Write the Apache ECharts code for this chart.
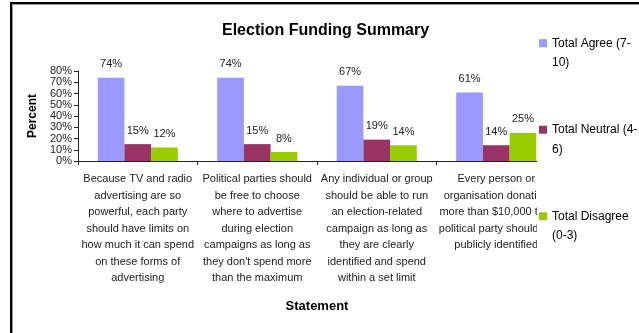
<!DOCTYPE html>
<html>
<head>
<meta charset="utf-8">
<title>Election Funding Summary</title>
<script src="https://cdn.jsdelivr.net/npm/echarts@6/dist/echarts.min.js"></script>
<style>
  html, body { margin: 0; padding: 0; background: #fff; }
  #chart { width: 639px; height: 333px; }
</style>
</head>
<body>
<div id="chart"></div>
<script>
// Statements (line breaks follow the wrapped layout under each group)
const statements = [
  'Because TV and radio\nadvertising are so\npowerful, each party\nshould have limits on\nhow much it can spend\non these forms of\nadvertising',
  'Political parties should\nbe free to choose\nwhere to advertise\nduring election\ncampaigns as long as\nthey don\'t spend more\nthan the maximum',
  'Any individual or group\nshould be able to run\nan election-related\ncampaign as long as\nthey are clearly\nidentified and spend\nwithin a set limit',
  'Every person or\norganisation donating\nmore than $10,000 to a\npolitical party should be\npublicly identified'
];

// Share of respondents (%) per statement
const totalAgree = [74, 74, 67, 61];
const totalNeutral = [15, 15, 19, 14];
const totalDisagree = [12, 8, 14, 25];

const seriesNames = ['Total Agree (7-10)', 'Total Neutral (4-6)', 'Total Disagree (0-3)'];
const legendLabels = ['Total Agree (7-\n10)', 'Total Neutral (4-\n6)', 'Total Disagree\n(0-3)'];

const yTicks = [0, 10, 20, 30, 40, 50, 60, 70, 80];

const FONT = '"Liberation Sans", Arial, sans-serif';
const colors = ['#9999FF', '#993366', '#99CC00'];

const chart = echarts.init(document.getElementById('chart'), null, { renderer: 'canvas' });

function barSeries(name, values, color) {
  return {
    name: name,
    type: 'bar',
    data: values,
    barGap: '0%',
    barCategoryGap: '33%',
    itemStyle: { color: color },
    label: {
      show: true,
      position: 'top',
      distance: 8,
      formatter: '{c}%',
      fontFamily: FONT,
      fontSize: 11,
      color: '#222'
    }
  };
}

chart.setOption({
  animation: false,
  backgroundColor: '#fff',
  textStyle: { fontFamily: FONT },
  title: {
    text: 'Election Funding Summary',
    left: 222,
    top: 23,
    padding: 0,
    textStyle: { fontFamily: FONT, fontSize: 16, fontWeight: 'bold', color: '#000' }
  },
  grid: { left: 78, right: 83, top: 71, bottom: 172, containLabel: false },
  legend: {
    orient: 'vertical',
    left: 537,
    top: 14,
    icon: 'rect',
    itemWidth: 8,
    itemHeight: 8,
    itemGap: 28,
    padding: [0, 12, 45, 2],
    backgroundColor: '#fff',
    data: seriesNames,
    // a leading blank line keeps the first text line level with the marker
    formatter: function (name) {
      return '\n' + legendLabels[seriesNames.indexOf(name)];
    },
    textStyle: {
      fontFamily: FONT,
      fontSize: 12,
      lineHeight: 19.5,
      color: '#000'
    }
  },
  xAxis: {
    type: 'category',
    data: statements,
    name: 'Statement',
    nameLocation: 'middle',
    nameGap: 139,
    nameTextStyle: { fontFamily: FONT, fontSize: 13, fontWeight: 'bold', color: '#000', verticalAlign: 'top' },
    axisLine: { lineStyle: { color: '#222', width: 1 } },
    axisTick: { show: true, length: 4, lineStyle: { color: '#222' } },
    axisLabel: {
      interval: 0,
      margin: 10,
      fontFamily: FONT,
      fontSize: 11,
      lineHeight: 16.5,
      color: '#222',
      align: 'center'
    }
  },
  yAxis: {
    type: 'value',
    min: yTicks[0],
    max: yTicks[yTicks.length - 1],
    interval: 10,
    name: 'Percent',
    nameLocation: 'middle',
    nameGap: 38,
    nameTextStyle: { fontFamily: FONT, fontSize: 12, fontWeight: 'bold', color: '#000' },
    axisLine: { show: true, lineStyle: { color: '#222', width: 1 } },
    axisTick: { show: true, length: 4, lineStyle: { color: '#222' } },
    splitLine: { show: false },
    axisLabel: {
      margin: 6,
      fontFamily: FONT,
      fontSize: 11,
      color: '#222',
      formatter: '{value}%'
    }
  },
  series: [
    barSeries(seriesNames[0], totalAgree, colors[0]),
    barSeries(seriesNames[1], totalNeutral, colors[1]),
    barSeries(seriesNames[2], totalDisagree, colors[2])
  ],
  graphic: [
    {
      type: 'rect',
      z: 100,
      silent: true,
      shape: { x: 11, y: 3, width: 700, height: 500 },
      style: { fill: null, stroke: '#000', lineWidth: 2 }
    },
    {
      type: 'rect',
      z: 100,
      silent: true,
      shape: { x: 12.5, y: 4.5, width: 700, height: 500 },
      style: { fill: null, stroke: '#999', lineWidth: 1 }
    }
  ]
});
</script>
</body>
</html>
